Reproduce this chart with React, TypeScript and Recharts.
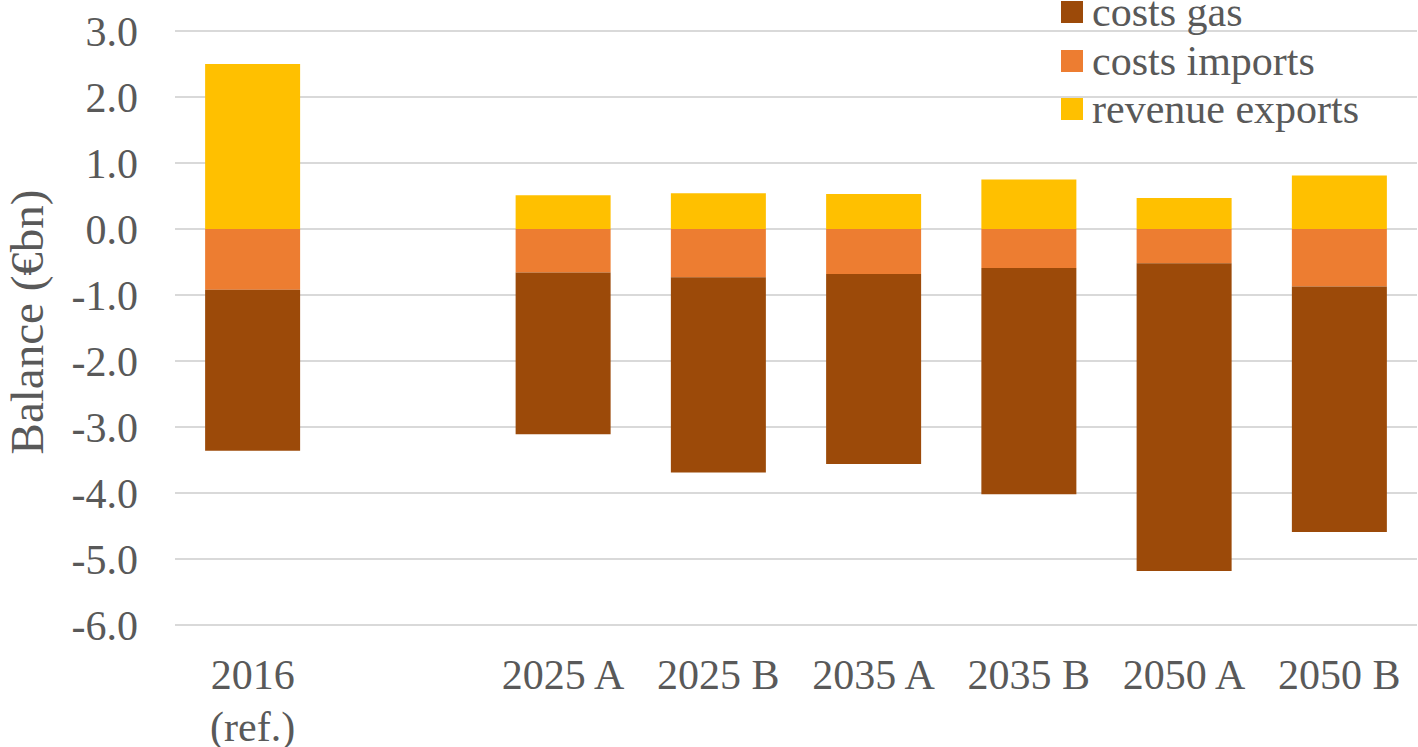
import React from "react";
import { BarChart, Bar, XAxis, YAxis, CartesianGrid } from "recharts";

const categories = ["2016\n(ref.)", "", "2025 A", "2025 B", "2035 A", "2035 B", "2050 A", "2050 B"];
const costsGas = [-2.44, 0, -2.45, -2.96, -2.88, -3.43, -4.66, -3.72];
const costsImports = [-0.92, 0, -0.66, -0.73, -0.68, -0.59, -0.52, -0.87];
const revenueExports = [2.5, 0, 0.51, 0.54, 0.53, 0.75, 0.47, 0.81];
const yTicks = [-6, -5, -4, -3, -2, -1, 0, 1, 2, 3];

const seriesInfo = [
  { key: "gas", label: "costs gas", color: "#9C4A09" },
  { key: "imports", label: "costs imports", color: "#ED7D31" },
  { key: "exports", label: "revenue exports", color: "#FFC000" },
];

const data = categories.map((name, i) => ({
  name,
  gas: costsGas[i],
  imports: costsImports[i],
  exports: revenueExports[i],
}));

const FONT = "'Liberation Serif', 'Times New Roman', serif";
const TEXT = "#595959";

const XTick = (props: any) => {
  const { x, y, payload } = props;
  const lines = String(payload.value).split("\n").filter((s) => s.length > 0);
  return (
    <text x={x} y={y} textAnchor="middle" fill={TEXT} fontFamily={FONT} fontSize={42}>
      {lines.map((l, i) => (
        <tspan key={i} x={x} dy={i === 0 ? 56 : 52}>
          {l}
        </tspan>
      ))}
    </text>
  );
};

const YTick = (props: any) => {
  const { x, y, payload } = props;
  return (
    <text x={x} y={y} dy="0.355em" textAnchor="end" fill={TEXT} fontFamily={FONT} fontSize={42}>
      {Number(payload.value).toFixed(1)}
    </text>
  );
};

const LegendBox = () => (
  <div
    style={{
      position: "absolute",
      top: -12,
      left: 1061,
      width: 357,
      fontFamily: FONT,
      fontSize: 42,
      color: TEXT,
      pointerEvents: "none",
    }}
  >
    {seriesInfo.map((s) => (
      <div key={s.key} style={{ display: "flex", alignItems: "center", height: 48.5, lineHeight: "48.5px" }}>
        <span style={{ display: "inline-block", width: 22, height: 22, background: s.color, marginRight: 9, flex: "none" }} />
        <span style={{ whiteSpace: "nowrap" }}>{s.label}</span>
      </div>
    ))}
  </div>
);

export default function App() {
  return (
    <div style={{ position: "absolute", left: 0, top: 0, width: 1418, height: 747, background: "#fff", overflow: "hidden" }}>
      <BarChart
        width={1418}
        height={747}
        data={data}
        stackOffset="sign"
        barCategoryGap="19.4%"
        margin={{ top: 31, right: 1, left: 0, bottom: 0 }}
      >
        <CartesianGrid vertical={false} stroke="#D9D9D9" strokeWidth={2} />
        <XAxis
          dataKey="name"
          axisLine={false}
          tickLine={false}
          height={122}
          interval={0}
          tick={<XTick />}
        />
        <YAxis
          type="number"
          domain={[-6, 3]}
          ticks={yTicks}
          width={175}
          axisLine={false}
          tickLine={false}
          tickSize={6}
          tickMargin={31}
          tick={<YTick />}
          label={{
            value: "Balance (€bn)",
            content: () => (
              <text
                x={43}
                y={322}
                transform="rotate(-90, 43, 322)"
                textAnchor="middle"
                fill={TEXT}
                fontFamily={FONT}
                fontSize={47}
              >
                Balance (€bn)
              </text>
            ),
          }}
        />
        <Bar dataKey="imports" stackId="a" fill="#ED7D31" isAnimationActive={false} />
        <Bar dataKey="gas" stackId="a" fill="#9C4A09" isAnimationActive={false} />
        <Bar dataKey="exports" stackId="a" fill="#FFC000" isAnimationActive={false} />
      </BarChart>
      <LegendBox />
    </div>
  );
}
